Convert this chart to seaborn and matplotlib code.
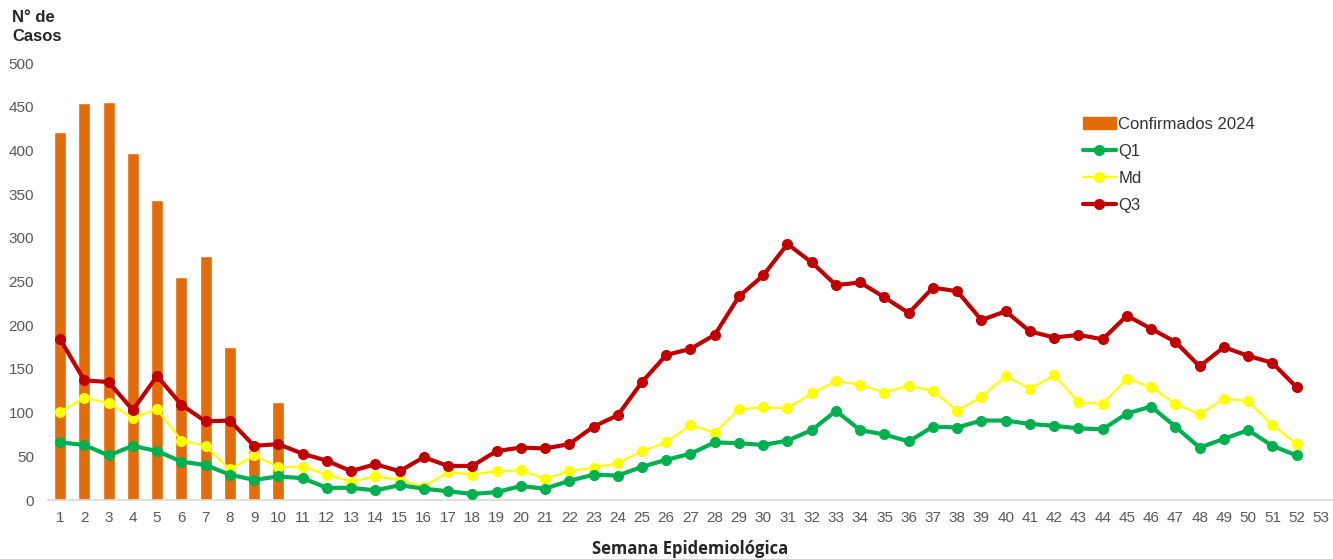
import numpy as np
import pandas as pd
import matplotlib
matplotlib.use("Agg")
import matplotlib.pyplot as plt
import seaborn as sns
from matplotlib.lines import Line2D
from matplotlib.patches import Patch

weeks = list(range(1, 53))
bar_weeks = list(range(1, 11))
confirmados_2024 = [421, 454, 455, 397, 343, 255, 279, 175, 57, 112]

q1 = [66, 63, 51, 62, 56, 44, 40, 29, 23, 27, 25, 14, 14, 11, 17, 13, 10, 7, 9, 16,
      13, 22, 29, 28, 38, 46, 53, 66, 65, 63, 68, 80, 102, 80, 75, 67, 84, 83, 91, 91,
      87, 85, 82, 81, 99, 107, 84, 60, 70, 80, 62, 51]
md = [101, 117, 111, 94, 104, 68, 62, 35, 51, 38, 38, 29, 21, 27, 23, 15, 32, 29, 33, 34,
      24, 33, 37, 42, 56, 66, 86, 77, 104, 106, 105, 122, 136, 132, 123, 131, 125, 102, 118, 142,
      127, 143, 112, 110, 139, 129, 110, 98, 116, 113, 86, 64]
q3 = [184, 137, 135, 103, 142, 109, 90, 91, 62, 64, 53, 45, 33, 41, 33, 49, 39, 39, 56, 60,
      59, 64, 84, 97, 135, 166, 173, 189, 233, 257, 293, 272, 246, 249, 232, 214, 243, 239, 206, 216,
      193, 186, 189, 184, 211, 196, 181, 153, 175, 165, 157, 129]

xticks = list(range(1, 54))
yticks = [0, 50, 100, 150, 200, 250, 300, 350, 400, 450, 500]

c_bar = "#E36C0A"
c_q1 = "#00B050"
c_md = "#FFFF00"
c_q3 = "#C00000"
tick_col = "#595959"

sns.set_theme(style="white")
plt.rcParams["font.family"] = ["Liberation Sans", "DejaVu Sans"]

fig = plt.figure(figsize=(13.33, 5.59), dpi=100)
ax = fig.add_axes([0.036, 0.1055, 0.964, 0.7815])

df_bar = pd.DataFrame({"week": bar_weeks, "casos": confirmados_2024})
sns.barplot(data=df_bar, x="week", y="casos", native_scale=True, color=c_bar,
            width=0.5, saturation=1, ax=ax, zorder=1)

df = pd.DataFrame({"week": weeks, "Q1": q1, "Md": md, "Q3": q3})
sns.lineplot(data=df, x="week", y="Q1", color=c_q1, lw=3, marker="o", ms=8,
             markeredgewidth=0, ax=ax, zorder=3)
sns.lineplot(data=df, x="week", y="Md", color=c_md, lw=1.6, marker="o", ms=8,
             markeredgewidth=0, ax=ax, zorder=2)
sns.lineplot(data=df, x="week", y="Q3", color=c_q3, lw=3, marker="o", ms=8,
             markeredgewidth=0, ax=ax, zorder=4)

ax.set_xlim(0.5, 53.5)
ax.set_ylim(0, 500)
ax.set_xticks(xticks)
ax.set_xticklabels([str(t) for t in xticks])
ax.set_yticks(yticks)
ax.tick_params(axis="both", length=0, labelsize=11, colors=tick_col)
ax.tick_params(axis="x", pad=8)
ax.tick_params(axis="y", pad=10)
for s in ["top", "right", "left"]:
    ax.spines[s].set_visible(False)
ax.spines["bottom"].set_color("#D9D9D9")
ax.spines["bottom"].set_linewidth(1.2)
ax.set_xlabel("Semana Epidemiológica", fontsize=12, fontweight="bold",
              family=["Open Sans", "DejaVu Sans"], labelpad=11)
ax.set_ylabel("")
ax.grid(False)

fig.text(0.009, 0.982, "N° de\nCasos", fontsize=12, fontweight="bold",
         ha="left", va="top", linespacing=1.3)

handles = [
    Patch(facecolor=c_bar, edgecolor=c_bar, label="Confirmados 2024"),
    Line2D([], [], color=c_q1, lw=3, marker="o", ms=7, label="Q1"),
    Line2D([], [], color=c_md, lw=1.6, marker="o", ms=7, label="Md"),
    Line2D([], [], color=c_q3, lw=3, marker="o", ms=7, label="Q3"),
]
leg = ax.legend(handles=handles, loc="upper left", bbox_to_anchor=(0.8, 0.893),
                frameon=False, fontsize=12, handlelength=2.0, handletextpad=0.15,
                labelspacing=0.72, borderaxespad=0)
for t in leg.get_texts():
    t.set_color("#333333")

fig.savefig("out.png", dpi=100)
